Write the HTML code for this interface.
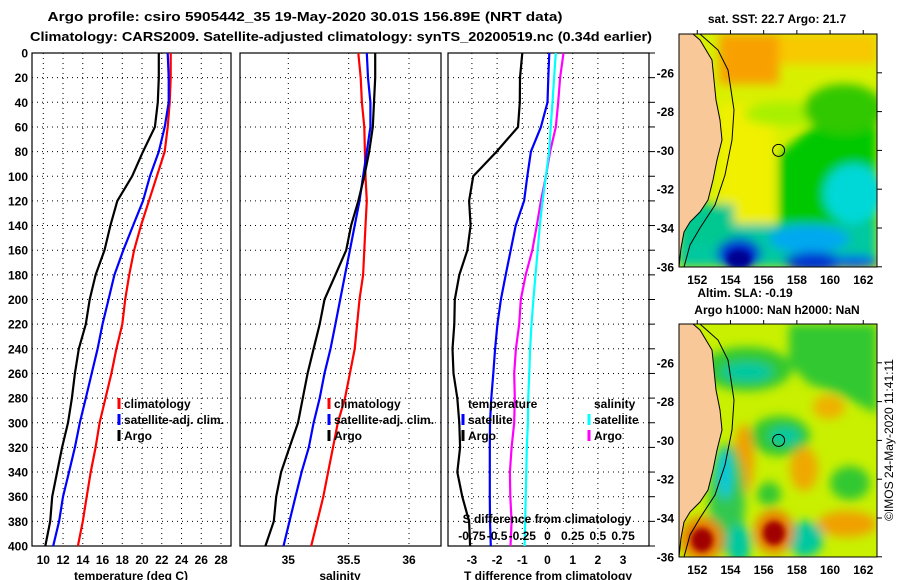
<!DOCTYPE html>
<html><head><meta charset="utf-8"><style>
body{margin:0;background:#fff;}
svg{display:block;font-family:"Liberation Sans",Arial,sans-serif;font-weight:bold;}
</style></head><body>
<svg id="chart" width="900" height="580" viewBox="0 0 900 580" xmlns="http://www.w3.org/2000/svg">
<defs>
<filter id="bl" x="-20%" y="-20%" width="140%" height="140%"><feGaussianBlur stdDeviation="5"/></filter>
<filter id="bl2" x="-20%" y="-20%" width="140%" height="140%"><feGaussianBlur stdDeviation="3"/></filter>
<clipPath id="cm1"><rect x="679" y="34" width="198" height="233"/></clipPath>
<clipPath id="cm2"><rect x="679" y="324" width="198" height="233"/></clipPath>
</defs>
<text x="305" y="21" font-size="13" text-anchor="middle" textLength="515" lengthAdjust="spacingAndGlyphs">Argo profile: csiro 5905442_35 19-May-2020 30.01S 156.89E (NRT data)</text>
<text x="341" y="41" font-size="13" text-anchor="middle" textLength="622" lengthAdjust="spacingAndGlyphs">Climatology: CARS2009. Satellite-adjusted climatology: synTS_20200519.nc (0.34d earlier)</text>
<g id="panels"></g>

<!-- SST map -->
<g>
<text x="777" y="23" font-size="12" text-anchor="middle">sat. SST: 22.7 Argo: 21.7</text>
<g clip-path="url(#cm1)">
<rect x="679" y="34" width="198" height="233" fill="#d8f000"/>
<g filter="url(#bl)" transform="translate(679,34)">
<rect x="40" y="0" width="60" height="50" fill="#f8a000"/>
<rect x="100" y="0" width="98" height="30" fill="#f8c800"/>
<rect x="40" y="70" width="55" height="140" fill="#f0f000"/>
<path d="M100,120 L130,95 L198,80 L198,233 L100,233 Z" fill="#00c800"/>
<ellipse cx="105" cy="80" rx="40" ry="12" fill="#a8f000"/>
<ellipse cx="165" cy="75" rx="40" ry="25" fill="#30c800"/>
<rect x="0" y="190" width="198" height="43" fill="#00c8a0"/>
<rect x="0" y="170" width="55" height="40" fill="#00c890"/>
<ellipse cx="175" cy="160" rx="30" ry="30" fill="#00d8d8"/>
<ellipse cx="130" cy="205" rx="40" ry="14" fill="#00a8f0"/>
<ellipse cx="60" cy="220" rx="22" ry="16" fill="#0030d0"/>
<ellipse cx="135" cy="228" rx="30" ry="10" fill="#0030d0"/>
<ellipse cx="175" cy="228" rx="25" ry="6" fill="#0050f0"/>
</g>
<ellipse cx="60" cy="225" rx="12" ry="9" transform="translate(679,34)" fill="#000090" filter="url(#bl2)"/>
<path d="M679,34 L693,34 L700,40 L712,60 L714,80 L716,100 L720,120 L722,140 L717,160 L713,180 L708,200 L700,212 L690,222 L684,232 L681,248 L679,267 Z" fill="#f8c898" stroke="#000" stroke-width="1"/>
<path d="M700,34 L718,50 L728,70 L734,110 L732,140 L725,175 L715,205 L700,228 L690,245 L684,267" fill="none" stroke="#000" stroke-width="1"/>
<circle cx="778.6" cy="150.4" r="6" fill="none" stroke="#000"/>
</g>
<rect x="679" y="34" width="198" height="233" fill="none" stroke="#000"/>
</g>

<!-- SLA map -->
<g>
<text x="745" y="297" font-size="12" text-anchor="middle">Altim. SLA: -0.19</text>
<text x="777" y="314" font-size="12" text-anchor="middle">Argo h1000: NaN h2000: NaN</text>
<g clip-path="url(#cm2)">
<rect x="679" y="324" width="198" height="233" fill="#c8f000"/>
<g filter="url(#bl)" transform="translate(679,324)">
<path d="M110,0 L198,0 L198,90 L160,70 L130,60 L110,40 Z" fill="#30c830"/>
<ellipse cx="68" cy="45" rx="45" ry="22" fill="#30c830"/>
<ellipse cx="68" cy="48" rx="26" ry="10" fill="#00c8a0"/>
<ellipse cx="101" cy="112" rx="30" ry="20" fill="#30c830"/>
<ellipse cx="106" cy="112" rx="16" ry="9" fill="#00c8a0"/>
<ellipse cx="65" cy="135" rx="10" ry="35" fill="#f0a000"/>
<ellipse cx="150" cy="83" rx="16" ry="12" fill="#f0b000"/>
<ellipse cx="125" cy="145" rx="14" ry="22" fill="#f0a800"/>
<ellipse cx="48" cy="175" rx="18" ry="55" fill="#30c850"/>
<ellipse cx="46" cy="150" rx="7" ry="25" fill="#00c8e0"/>
<ellipse cx="171" cy="159" rx="20" ry="17" fill="#30c830"/>
<ellipse cx="90" cy="170" rx="12" ry="12" fill="#30c830"/>
<ellipse cx="168" cy="200" rx="30" ry="13" fill="#f0a000"/>
<ellipse cx="126" cy="215" rx="18" ry="18" fill="#00c8a0"/>
<ellipse cx="60" cy="220" rx="12" ry="20" fill="#00c8a0"/>
<ellipse cx="23" cy="215" rx="22" ry="22" fill="#e88000"/>
<ellipse cx="95" cy="208" rx="20" ry="22" fill="#e88000"/>
</g>
<ellipse cx="702" cy="540" rx="11" ry="12" fill="#a00000" filter="url(#bl2)"/>
<ellipse cx="774" cy="533" rx="11" ry="12" fill="#a00000" filter="url(#bl2)"/>
<path d="M679,324 L693,324 L700,330 L712,350 L714,370 L716,390 L720,410 L722,430 L717,450 L713,470 L708,490 L700,502 L690,512 L684,522 L681,538 L679,557 Z" fill="#f8c898" stroke="#000" stroke-width="1"/>
<path d="M700,324 L718,340 L728,360 L734,400 L732,430 L725,465 L715,495 L700,518 L690,535 L684,557" fill="none" stroke="#000" stroke-width="1"/>
<circle cx="778.6" cy="440.4" r="6" fill="none" stroke="#000"/>
</g>
<rect x="679" y="324" width="198" height="233" fill="none" stroke="#000"/>
</g>
<text transform="translate(893,440) rotate(-90)" font-size="12" font-weight="normal" text-anchor="middle">©IMOS 24-May-2020 11:41:11</text>
<g id="maps-axes"></g>
</svg>
<script>
// depth levels (m)
const depths = [0,20,40,60,80,100,120,140,160,180,200,220,240,260,280,300,320,340,360,380,400];
const tempClim = [22.9,22.9,22.8,22.6,22.3,21.5,20.7,19.9,19.2,18.7,18.3,18.0,17.4,16.9,16.3,15.7,15.3,14.8,14.4,14.0,13.5];
const tempSat = [22.6,22.7,22.7,22.3,21.7,20.8,20.1,19.1,18.1,17.2,16.6,16.0,15.5,14.9,14.3,13.7,13.2,12.6,12.0,11.6,11.0];
const tempArgo = [21.7,21.7,21.6,21.3,20.1,19.0,17.5,16.8,16.2,15.3,14.7,14.3,13.6,13.2,12.9,12.5,11.9,11.4,10.9,10.7,10.2];
const salClim = [35.58,35.60,35.61,35.63,35.635,35.64,35.65,35.64,35.63,35.62,35.59,35.57,35.55,35.51,35.47,35.41,35.37,35.33,35.29,35.24,35.19];
const salSat = [35.65,35.66,35.68,35.68,35.65,35.62,35.59,35.55,35.51,35.47,35.43,35.39,35.35,35.30,35.26,35.21,35.17,35.11,35.06,35.01,34.96];
const salArgo = [35.72,35.72,35.71,35.70,35.67,35.63,35.58,35.52,35.48,35.39,35.30,35.26,35.21,35.16,35.12,35.08,35.01,34.94,34.90,34.88,34.81];
const tDiffSat = [0.07,0.03,0.0,-0.26,-0.66,-0.8,-0.93,-1.26,-1.46,-1.66,-1.85,-1.99,-2.08,-2.15,-2.23,-2.28,-2.29,-2.29,-2.29,-2.28,-2.25];
const tDiffArgo = [-1.0,-1.09,-1.1,-1.17,-2.02,-2.95,-3.11,-3.05,-3.18,-3.5,-3.68,-3.7,-3.77,-3.73,-3.58,-3.5,-3.47,-3.58,-3.38,-3.11,-3.07];
const sDiffSat = [0.082,0.065,0.05,0.032,0.016,-0.016,-0.05,-0.076,-0.097,-0.119,-0.14,-0.159,-0.173,-0.181,-0.191,-0.194,-0.205,-0.21,-0.216,-0.221,-0.227];
const sDiffArgo = [0.159,0.125,0.106,0.082,0.026,-0.016,-0.065,-0.106,-0.151,-0.216,-0.265,-0.281,-0.313,-0.33,-0.324,-0.33,-0.356,-0.373,-0.369,-0.356,-0.367];
const depthTicks = [0,20,40,60,80,100,120,140,160,180,200,220,240,260,280,300,320,340,360,380,400];
const tempTicks = [10,12,14,16,18,20,22,24,26,28];
const salTicks = [35,35.5,36];
const tDiffTicks = [-3,-2,-1,0,1,2,3];
const sDiffTicks = [-0.75,-0.5,-0.25,0,0.25,0.5,0.75];
const sDiffLabels = ['-0.75','-0.5','-0.25','0','0.25','0.5','0.75'];
const latTicks = [-26,-28,-30,-32,-34,-36];
const lonTicks = [152,154,156,158,160,162];

const NS='http://www.w3.org/2000/svg';
const root=document.getElementById('panels');
function mk(tag,attrs,parent,text){const e=document.createElementNS(NS,tag);for(const k in attrs)e.setAttribute(k,attrs[k]);if(text!==undefined)e.textContent=text;(parent||root).appendChild(e);return e;}
const Y0=53,Y1=546;
function yScale(d){return Y0+(d/400)*(Y1-Y0);}
function lin(d0,d1,r0,r1){return v=>r0+(v-d0)/(d1-d0)*(r1-r0);}

const panels=[
 {name:'temperature-panel',x0:32,x1:231,sx:lin(10,28,43.3,221)},
 {name:'salinity-panel',x0:240,x1:441,sx:lin(35,36,288.3,409)},
 {name:'difference-panel',x0:448,x1:649,sx:lin(0,1,547.5,572.7)}
];
const sDx=lin(0,1,547.5,648.3);

panels.forEach((p,i)=>{
  const g=mk('g',{});
  
  
  depthTicks.forEach(d=>{
    const l=mk('line',{x1:p.x0,x2:p.x1,y1:yScale(d),y2:yScale(d),stroke:'#000','stroke-dasharray':'1,4','stroke-width':1},g);
    
    
  });
  const ticks = i===0?tempTicks:(i===1?salTicks:tDiffTicks);
  ticks.forEach(t=>{
    const x=p.sx(t);
    const l=mk('line',{x1:x,x2:x,y1:Y0,y2:Y1,stroke:'#000','stroke-dasharray':'1,4','stroke-width':1},g);
    
    
    const tx=mk('text',{x:x,y:564,'font-size':12,'text-anchor':'middle'},g,String(t));
    
    
  });
  const fr=mk('rect',{x:p.x0,y:Y0,width:p.x1-p.x0,height:Y1-Y0,fill:'none',stroke:'#000','stroke-width':1.2},g);
  
  
});

depthTicks.forEach(d=>{
  const t=mk('text',{x:28,y:yScale(d)+4.5,'font-size':12,'text-anchor':'end'},root,String(d));
  
  
  const tk=mk('line',{x1:649,x2:655,y1:yScale(d),y2:yScale(d),stroke:'#000'});
  
  
});

function series(vals,sx,color,name,w){
  const pts=vals.map((v,k)=>sx(v).toFixed(1)+','+yScale(depths[k]).toFixed(1)).join(' ');
  const pl=mk('polyline',{points:pts,fill:'none',stroke:color,'stroke-width':w||2.2});
  
  
}
series(tempClim,panels[0].sx,'#f00','temp-climatology-line');
series(tempSat,panels[0].sx,'#00f','temp-satellite-line');
series(tempArgo,panels[0].sx,'#000','temp-argo-line');
series(salClim,panels[1].sx,'#f00','sal-climatology-line');
series(salSat,panels[1].sx,'#00f','sal-satellite-line');
series(salArgo,panels[1].sx,'#000','sal-argo-line');
series(tDiffArgo,panels[2].sx,'#000','tdiff-argo-line');
series(tDiffSat,panels[2].sx,'#00f','tdiff-satellite-line');
series(sDiffArgo,sDx,'#f0f','sdiff-argo-line');
series(sDiffSat,sDx,'#0ff','sdiff-satellite-line');

const sl=mk('text',{x:547,y:523,'font-size':12,'text-anchor':'middle'},root,'S difference from climatology');


sDiffTicks.forEach((t,k)=>{
  const tx=mk('text',{x:sDx(t),y:540,'font-size':12,'text-anchor':'middle'},root,sDiffLabels[k]);
  
  
});

[['temperature (deg C)',131,'temperature-axis-title'],['salinity',340,'salinity-axis-title'],['T difference from climatology',548,'t-diff-axis-title']].forEach(a=>{
  const t=mk('text',{x:a[1],y:580,'font-size':12,'text-anchor':'middle'},root,a[0]);
  
  
});

function legend(x,y,color,label,name){
  const g=mk('g',{});
  
  
  if(color) mk('line',{x1:x,x2:x,y1:y-6,y2:y+5,stroke:color,'stroke-width':3},g);
  mk('text',{x:x+5,y:y+4,'font-size':12},g,label);
}
legend(119,404,'#f00','climatology','legend-temp-climatology');
legend(119,420,'#00f','satellite-adj. clim.','legend-temp-satellite');
legend(119,436,'#000','Argo','legend-temp-argo');
legend(329,404,'#f00','climatology','legend-sal-climatology');
legend(329,420,'#00f','satellite-adj. clim.','legend-sal-satellite');
legend(329,436,'#000','Argo','legend-sal-argo');
legend(463,404,null,'temperature','legend-temperature-header');
legend(463,420,'#00f','satellite','legend-tdiff-satellite');
legend(463,436,'#000','Argo','legend-tdiff-argo');
legend(589,404,null,'salinity','legend-salinity-header');
legend(589,420,'#0ff','satellite','legend-sdiff-satellite');
legend(589,436,'#f0f','Argo','legend-sdiff-argo');

const ma=document.getElementById('maps-axes');
function lonX(l){return 679+(l-150.9)*16.6;}
function latY(l,off){return off+(-24-l)*19.4;}
[34,324].forEach((off,mi)=>{
  latTicks.forEach(l=>{
    const t=mk('text',{x:674,y:latY(l,off)+4.5,'font-size':12,'text-anchor':'end'},ma,String(l));
    
    
    mk('line',{x1:877,x2:882,y1:latY(l,off),y2:latY(l,off),stroke:'#000'},ma);
  });
  lonTicks.forEach(l=>{
    const t=mk('text',{x:lonX(l),y:off+233+17,'font-size':12,'text-anchor':'middle'},ma,String(l));
    
    
    mk('line',{x1:lonX(l),x2:lonX(l),y1:off-4,y2:off,stroke:'#000'},ma);
  });
});
</script>
</body></html>
